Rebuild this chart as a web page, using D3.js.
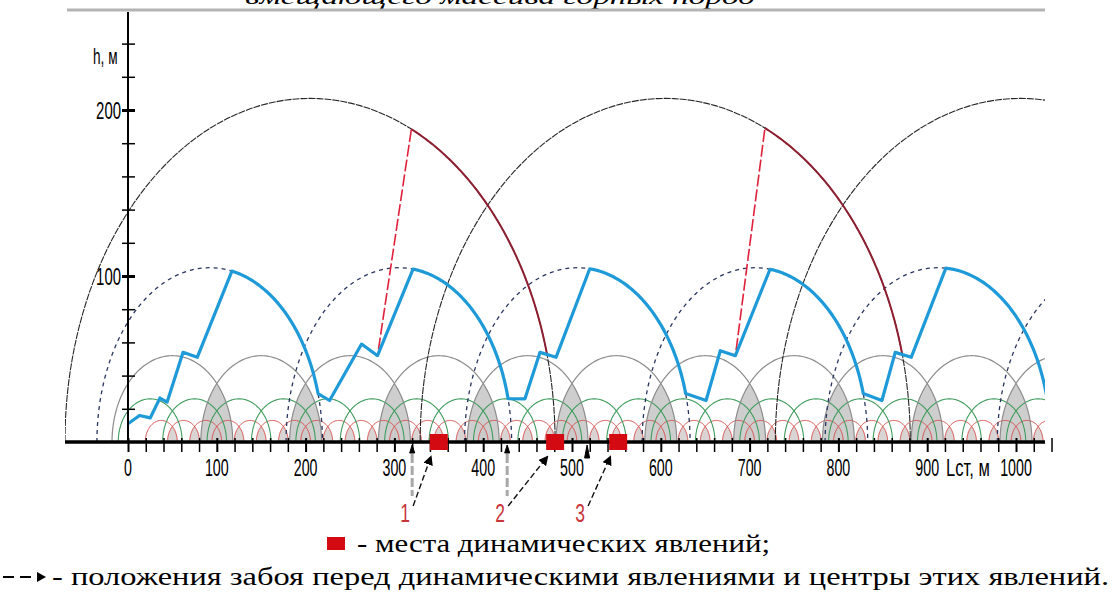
<!DOCTYPE html>
<html>
<head>
<meta charset="utf-8">
<script src="https://cdn.jsdelivr.net/npm/d3@7"></script>
<style>
  body { margin: 0; background: #fff; }
  svg { display: block; }
  .serif { font-family: "Liberation Serif", "DejaVu Serif", serif; }
  .narrow { font-family: "Liberation Sans", Arial, sans-serif; }
</style>
</head>
<body>
<svg id="chart"></svg>
<script>
// ---- data (metres) ----
const xLabels = [0, 100, 200, 300, 400, 500, 600, 700, 800, 900, 1000];
const xMinor = [0,20,40,60,80,100,120,140,160,180,200,220,240,260,280,300,320,340,360,380,400,420,440,460,480,500,520,540,560,580,600,620,640,660,680,700,720,740,760,780,800,820,840,860,880,900,920,940,960,980,1000,1020,1040];
const yLabels = [100, 200];
const yMinor = [20, 40, 60, 80, 100, 120, 140, 160, 180, 200, 220, 240];

// big thin arcs
const bigCenters = [205, 605, 1005];
const bigHalf = 276, bigHeight = 207;
// dashed arcs
const dashCenters = [92, 305, 506, 706, 912, 1106];
const dashHalf = 127, dashHeight = 105;
// grey / green / red arcs
const greyCenters = [50, 150, 250, 350, 450, 550, 650, 750, 850, 950, 1050];
const greyHalf = 68, greyHeight = 52;
const greenCenters = [25, 75, 125, 175, 225, 275, 325, 375, 425, 475, 525, 575, 625, 675, 725, 775, 825, 875, 925, 975, 1025];
const greenHalf = 36, greenHeight = 26;
const redCenters = [37.5, 62.5, 87.5, 112.5, 137.5, 162.5, 187.5, 212.5, 237.5, 262.5, 287.5, 312.5, 337.5, 362.5, 387.5, 412.5, 437.5, 462.5, 487.5, 512.5, 537.5, 562.5, 587.5, 612.5, 637.5, 662.5, 687.5, 712.5, 737.5, 762.5, 787.5, 812.5, 837.5, 862.5, 887.5, 912.5, 937.5, 962.5, 987.5, 1012.5, 1037.5];
const redHalf = 18, redHeight = 13;

// blue working line: steps, then along the dashed arc from peak to end
const blueSteps = [
  [[0, 11], [13, 16], [25, 14.5], [36, 26.5], [44, 24], [62, 54], [78, 51]],
  [[227, 25], [263, 59], [281, 52]],
  [[447, 26], [464, 54], [482, 51]],
  [[651, 25], [667, 55], [684, 52]],
  [[849, 25], [864, 54], [882, 51]]
];
const bluePeaks = [117, 321, 520, 723, 921];
const blueEnds = [214, 428, 628, 828, 1035];

// red dashed lines (top on big arc -> blue step) and dark red parts of big arcs
const redLines = [[[319, 188], [281, 52]], [[717, 188], [684, 52]]];
const darkArcFrom = [319, 717];
const darkArcTo = [472, 872];

// events
const faceL = [320, 427, 517];
const eventL = [350, 481, 552];
const eventNames = ["1", "2", "3"];

// ---- layout ----
const W = 1115, H = 593;
const svg = d3.select("#chart").attr("width", W).attr("height", H);

const x = d3.scaleLinear().domain([0, 1000]).range([128, 1016]);
const y = d3.scaleLinear().domain([0, 200]).range([442, 110]);

const plotLeft = 65, plotRight = 1045, plotTop = 10;

// title (cut at top) and the rule below it
svg.append("text")
    .attr("class", "serif")
    .attr("x", 500).attr("y", 4)
    .attr("text-anchor", "middle")
    .style("font-style", "italic").style("font-size", "22px")
    .attr("textLength", 510).attr("lengthAdjust", "spacingAndGlyphs")
    .text("вмещающего массива горных пород");

svg.append("line")
    .attr("x1", 67).attr("x2", plotRight).attr("y1", plotTop).attr("y2", plotTop)
    .attr("stroke", "#b4b4b4").attr("stroke-width", 3);

const defs = svg.append("defs");
defs.append("clipPath").attr("id", "plot")
  .append("rect").attr("x", plotLeft).attr("y", plotTop)
    .attr("width", plotRight - plotLeft).attr("height", 442 - plotTop);

const plot = svg.append("g").attr("clip-path", "url(#plot)");

function arcPts(c, w, h, l0, l1) {
  const a0 = Math.acos(Math.max(-1, Math.min(1, (l0 - c) / w)));
  const a1 = Math.acos(Math.max(-1, Math.min(1, (l1 - c) / w)));
  const n = 90, pts = [];
  for (let i = 0; i <= n; i++) {
    const a = a0 + (a1 - a0) * i / n;
    pts.push([c + w * Math.cos(a), h * Math.sin(a)]);
  }
  return pts;
}
const line = d3.line().x(d => x(d[0])).y(d => y(d[1]));
const full = (c, w, h) => arcPts(c, w, h, c - w, c + w);

// lens shading between neighbouring arcs
function lenses(centers, w, h, id, fill, op) {
  centers.forEach((c, i) => {
    defs.append("clipPath").attr("id", id + i)
      .append("path").attr("d", line(full(c, w, h)) + "Z");
  });
  plot.append("g").selectAll("path")
    .data(centers.slice(0, -1))
    .join("path")
      .attr("d", c => line(full(c, w, h)) + "Z")
      .attr("clip-path", (c, i) => "url(#" + id + (i + 1) + ")")
      .attr("fill", fill).attr("opacity", op);
}
lenses(redCenters, redHalf, redHeight, "rc", "#d6d0d0", 0.9);
lenses(greyCenters, greyHalf, greyHeight, "gc", "#c9c9c9", 0.9);

function arcs(centers, w, h, color, width, dash) {
  plot.append("g").selectAll("path")
    .data(centers)
    .join("path")
      .attr("d", c => line(full(c, w, h)))
      .attr("fill", "none")
      .attr("stroke", color)
      .attr("stroke-width", width)
      .attr("stroke-dasharray", dash);
}
arcs(redCenters, redHalf, redHeight, "#d84a48", 1, null);
arcs(greenCenters, greenHalf, greenHeight, "#3f9c5c", 1.1, null);
arcs(greyCenters, greyHalf, greyHeight, "#8c8c8c", 1.2, null);
arcs(dashCenters, dashHalf, dashHeight, "#2a3560", 1.3, "4,4");
arcs(bigCenters, bigHalf, bigHeight, "#262626", 1.1, "7,1");

// dark red parts of the big arcs
plot.append("g").selectAll("path")
  .data(darkArcFrom)
  .join("path")
    .attr("d", (l, i) => line(arcPts(bigCenters[i], bigHalf, bigHeight, l, darkArcTo[i])))
    .attr("fill", "none").attr("stroke", "#8e1f30").attr("stroke-width", 2);

// red dashed lines
plot.append("g").selectAll("path")
  .data(redLines)
  .join("path")
    .attr("d", line)
    .attr("fill", "none").attr("stroke", "#e0203a").attr("stroke-width", 1.6)
    .attr("stroke-dasharray", "12,3");

// blue line
let bluePts = [];
blueSteps.forEach((s, k) => {
  bluePts = bluePts.concat(s, arcPts(dashCenters[k], dashHalf, dashHeight, bluePeaks[k], blueEnds[k]));
});
plot.append("path")
    .attr("d", line(bluePts))
    .attr("fill", "none").attr("stroke", "#1f9ad8").attr("stroke-width", 3.2)
    .attr("stroke-linejoin", "round");

// ---- axes ----
const xAxis = svg.append("g").attr("transform", "translate(0,442)")
  .call(d3.axisBottom(x).tickValues(xMinor).tickSize(10).tickFormat(""));
xAxis.select(".domain").remove();
xAxis.selectAll(".tick line").attr("y1", -4).attr("stroke-width", 1.5);
xAxis.selectAll(".tick").filter(d => d % 100 === 0).select("line").attr("stroke-width", 2);
svg.append("line").attr("x1", plotLeft).attr("x2", plotRight).attr("y1", 442).attr("y2", 442)
    .attr("stroke", "#000").attr("stroke-width", 3.5);

// condensed labels: squeeze horizontally
svg.append("g").selectAll("text")
  .data(xLabels)
  .join("text")
    .attr("class", "narrow")
    .attr("transform", d => "translate(" + x(d) + ",476) scale(0.62,1)")
    .attr("text-anchor", "middle")
    .style("font-size", "23px")
    .text(d => d);

svg.append("text").attr("class", "narrow")
    .attr("transform", "translate(946,476) scale(0.72,1)")
    .style("font-size", "23px")
    .text("Lст, м");

const yAxis = svg.append("g").attr("transform", "translate(128,0)")
  .call(d3.axisLeft(y).tickValues(yMinor).tickSize(5).tickFormat(""));
yAxis.select(".domain").remove();
yAxis.selectAll(".tick line").attr("x2", 7).attr("x1", -6).attr("stroke-width", 1.5);
yAxis.selectAll(".tick").filter(d => d % 100 === 0).select("line").attr("stroke-width", 3);
svg.append("line").attr("x1", 128).attr("x2", 128).attr("y1", 442).attr("y2", 12)
    .attr("stroke", "#000").attr("stroke-width", 2);

svg.append("g").selectAll("text")
  .data(yLabels)
  .join("text")
    .attr("class", "narrow")
    .attr("transform", d => "translate(121," + (y(d) + 9) + ") scale(0.65,1)")
    .attr("text-anchor", "end")
    .style("font-size", "23px")
    .text(d => d);

svg.append("text").attr("class", "narrow")
    .attr("transform", "translate(93,64) scale(0.62,1)")
    .style("font-size", "22px")
    .text("h, м");

// ---- events ----
defs.append("marker").attr("id", "head")
    .attr("viewBox", "0 0 10 10").attr("refX", 8).attr("refY", 5)
    .attr("markerWidth", 7).attr("markerHeight", 7).attr("orient", "auto")
  .append("path").attr("d", "M0,0L10,5L0,10Z").attr("fill", "#000");

// face positions below the axis
svg.append("g").selectAll("line")
  .data(faceL.slice(0, 2))
  .join("line")
    .attr("x1", d => x(d)).attr("x2", d => x(d))
    .attr("y1", 454).attr("y2", 496)
    .attr("stroke", "#a8a8a8").attr("stroke-width", 3).attr("stroke-dasharray", "9,3");
svg.append("g").selectAll("path")
  .data(faceL)
  .join("path")
    .attr("d", (d, i) => "M" + (x(d) - 2.5) + "," + (i < 2 ? 453 : 458) + "L" + x(d) + ",445L" + (x(d) + 2.5) + "," + (i < 2 ? 453 : 458) + "Z")
    .attr("fill", "#000").attr("stroke", "#000").attr("stroke-width", 1);

// dashed arrows from labels to events
svg.append("g").selectAll("line")
  .data(faceL)
  .join("line")
    .attr("x1", d => x(d) + 1).attr("y1", 506)
    .attr("x2", (d, i) => x(eventL[i]) - 8).attr("y2", 457)
    .attr("stroke", "#111").attr("stroke-width", 1.4).attr("stroke-dasharray", "6,3")
    .attr("marker-end", "url(#head)");

svg.append("g").selectAll("text")
  .data(faceL)
  .join("text")
    .attr("class", "narrow")
    .attr("transform", d => "translate(" + (x(d) - 7) + ",522) scale(0.7,1)")
    .attr("text-anchor", "middle")
    .style("font-size", "25px").attr("fill", "#c8363c")
    .text((d, i) => eventNames[i]);

// event squares
svg.append("g").selectAll("rect")
  .data(eventL)
  .join("rect")
    .attr("x", d => x(d) - 9).attr("y", 434)
    .attr("width", 18).attr("height", 16)
    .attr("fill", "#d30a12");

// ---- legend ----
svg.append("rect").attr("x", 327).attr("y", 537).attr("width", 18).attr("height", 13).attr("fill", "#d30a12");
svg.append("text").attr("class", "serif").attr("x", 357).attr("y", 552)
    .style("font-size", "26px")
    .attr("textLength", 413).attr("lengthAdjust", "spacingAndGlyphs")
    .text("- места динамических явлений;");

svg.append("line").attr("x1", 3).attr("x2", 35).attr("y1", 577).attr("y2", 577)
    .attr("stroke", "#000").attr("stroke-width", 2).attr("stroke-dasharray", "11,6");
svg.append("path").attr("d", "M37,572L46,577L37,582Z").attr("fill", "#000");
svg.append("text").attr("class", "serif").attr("x", 52).attr("y", 585)
    .style("font-size", "26px")
    .attr("textLength", 1057).attr("lengthAdjust", "spacingAndGlyphs")
    .text("- положения забоя перед динамическими явлениями и центры этих явлений.");
</script>
</body>
</html>
